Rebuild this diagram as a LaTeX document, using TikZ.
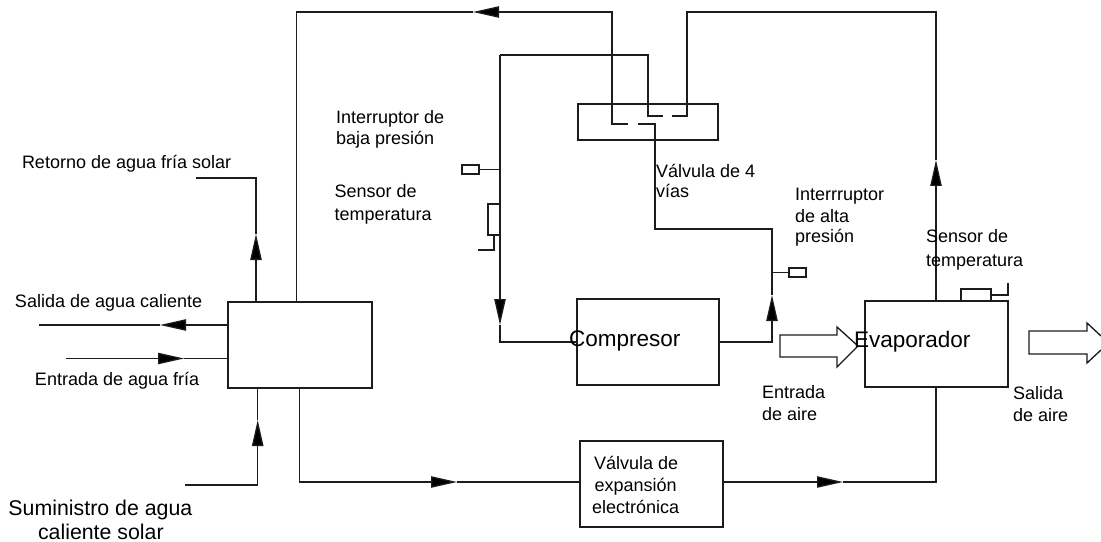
\documentclass[tikz,border=0pt]{standalone}
\usepackage{fontspec}
\setmainfont{Liberation Sans}
\usetikzlibrary{arrows.meta}
\definecolor{ink}{HTML}{1C1C1C}
\tikzset{
  pipe/.style={draw=ink,line width=1pt,line join=miter},
  flow/.style={pipe,-{Triangle[length=19.5pt,width=8.5pt,fill=black]}},
  box/.style={draw=ink,line width=1pt,inner sep=0pt,outer sep=0pt,rectangle},
  lab/.style={anchor=base west,inner sep=0pt,outer sep=0pt,text=black,font=\fontsize{13.5pt}{16pt}\selectfont},
  biglab/.style={anchor=base west,inner sep=0pt,outer sep=0pt,text=black},
}
\newcommand{\bx}[5]{\node[box,minimum width={(#4-#2)*0.75pt},minimum height={(#5-#3)*0.75pt}] (#1) at ({(#2+#4)/2},{(#3+#5)/2}) {};}
\begin{document}
\begin{tikzpicture}[x=0.75pt,y=-0.75pt]
\useasboundingbox (0,0) rectangle (1101,542);
% boxes
\bx{hx}{228}{302}{372}{388}
\bx{comp}{577}{299}{719}{385}
\bx{evap}{865}{301}{1008}{387}
\bx{eev}{580}{441}{723}{527}
\bx{fourway}{578}{104}{718}{140}
\bx{slow}{462}{165}{479}{174}
\bx{stemp}{488}{204}{500}{235}
\bx{shigh}{789}{268}{806}{277}
\bx{etemp}{961}{289}{991}{301}
% free ends and turning points
\coordinate (hotend) at (39,325);
\coordinate (hottip) at (160,325);
\coordinate (coldstart) at (66,358.5);
\coordinate (coldtip) at (184,358.5);
\coordinate (solarstart) at (185,485);
\coordinate (solartip) at (257.7,420);
\coordinate (rettip) at (256,234);
\coordinate (retend) at (196,178);
\coordinate (toptip) at (473,12);
\coordinate (dnA) at (500,55);
\coordinate (dntip) at (500,325);
\coordinate (uptip) at (772,295);
\coordinate (eatip) at (936,160);
\coordinate (btipA) at (457,482);
\coordinate (btipB) at (843,482);
% heat exchanger connections
\draw[flow] (hx.west |- hotend) -- (hottip);
\draw[pipe] (hottip) -- (hotend);
\draw[flow] (coldstart) -- (coldtip);
\draw[pipe] (coldtip) -- (hx.west |- coldtip);
\draw[flow] (solarstart) -- (solartip |- solarstart) -- (solartip);
\draw[pipe] (solartip) -- (solartip |- hx.south);
\draw[flow] (rettip |- hx.north) -- (rettip);
\draw[pipe] (rettip) -- (retend -| rettip) -- (retend);
% top loop from four way valve to exchanger
\draw[flow] (628,124) -- (612,124) -- (612,12) -- (toptip);
\draw[pipe] (toptip) -- (296.5,12) -- (296.5,302);
\draw[pipe] (638,124) -- (655,124) -- (655,229) -- (772,229) -- (uptip);
\draw[flow] (comp.east |- 0,342) -- (772,342) -- (uptip);
\draw[pipe] (663,116) -- (648,116) -- (648,55) -- (dnA);
\draw[flow] (dnA) -- (dntip);
\draw[pipe] (dntip) -- (500,342) -- (comp.west |- 0,342);
\draw[pipe] (672,116) -- (687,116) -- (687,12) -- (936,12) -- (eatip);
\draw[flow] (936,301) -- (eatip);
% bottom loop
\draw[flow] (299.5,388) -- (299.5,482) -- (btipA);
\draw[pipe] (btipA) -- (eev.west |- btipA);
\draw[flow] (eev.east |- btipB) -- (btipB);
\draw[pipe] (btipB) -- (936,482) -- (936,387);
% sensors
\draw[pipe] (slow.east) -- (500,169.5);
\draw[pipe] (494,235) -- (494,250) -- (478,250);
\draw[pipe] (772,272.5) -- (shigh.west);
\draw[pipe] (etemp.east |- 0,295) -- (1008,295) -- (1008,283);
% air arrows
\draw[pipe] (780,335) -- (837,335) -- (837,327) -- (858,346) -- (837,367) -- (837,357) -- (780,357) -- cycle;
\draw[pipe] (1101,336) -- (1087,323) -- (1087,331) -- (1029,331) -- (1029,354) -- (1087,354) -- (1087,363) -- (1101,350);
% labels
\node[lab] (l1) at (22,169) {Retorno de agua fría solar};
\node[lab] (l2) at (15,307) {Salida de agua caliente};
\node[lab] (l3) at (35,385) {Entrada de agua fría};
\node[biglab,font=\fontsize{16pt}{18pt}\selectfont] (l4) at (8.5,515) {Suministro de agua};
\node[biglab,font=\fontsize{16pt}{18pt}\selectfont] (l5) at (38,539) {caliente solar};
\node[lab] (l6) at (336,123) {Interruptor de};
\node[lab] (l7) at (336,145) {baja presión};
\node[lab] (l8) at (334.5,198) {Sensor de};
\node[lab] (l9) at (334.5,220) {temperatura};
\node[lab] (l10) at (656,177) {Válvula de 4};
\node[lab] (l11) at (656,198) {vías};
\node[lab] (l12) at (795,200) {Interrruptor};
\node[lab] (l13) at (795,222) {de alta};
\node[lab] (l14) at (795,243) {presión};
\node[lab] (l15) at (926,243) {Sensor de};
\node[lab] (l16) at (926,266) {temperatura};
\node[lab] (l17) at (762,398) {Entrada};
\node[lab] (l18) at (762,420) {de aire};
\node[lab] (l19) at (1013,399) {Salida};
\node[lab] (l20) at (1013,421) {de aire};
\node[lab] (l21) at (594,469) {Válvula de};
\node[lab] (l22) at (594.5,491) {expansión};
\node[lab] (l23) at (592,513) {electrónica};
\node[biglab,font=\fontsize{16.9pt}{20pt}\selectfont] (l24) at (569,346) {Compresor};
\node[biglab,font=\fontsize{16.9pt}{20pt}\selectfont] (l25) at (854,347) {Evaporador};
\end{tikzpicture}
\end{document}
